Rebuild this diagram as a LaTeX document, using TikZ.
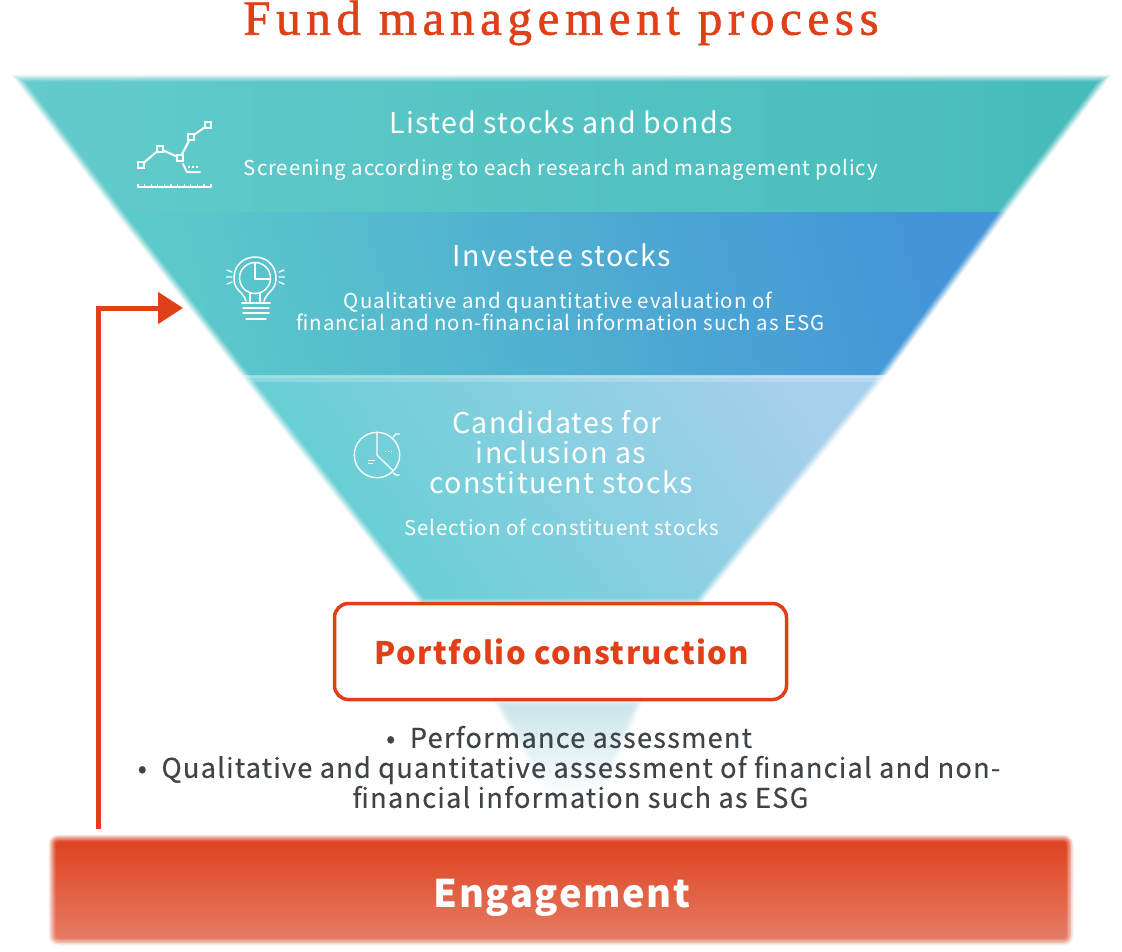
\documentclass[tikz,border=0pt]{standalone}
\usepackage{fontspec}
\setmainfont{Noto Sans CJK JP}[LetterSpace=4.5]
\newfontfamily\medfont{Noto Sans CJK JP}[LetterSpace=4.5,FakeBold=0.35]
\newfontfamily\titlefont{Liberation Serif}[LetterSpace=11.5,FakeBold=1.2]
\usetikzlibrary{arrows.meta}
\lineskiplimit=-20pt
\definecolor{accent}{HTML}{E03F18}
\definecolor{bodyink}{HTML}{3F4448}
\definecolor{tealA}{HTML}{64CBCC}
\definecolor{tealB}{HTML}{46BBBA}
\definecolor{tealC}{HTML}{5CC9CA}
\definecolor{blueC}{HTML}{4394D8}
\definecolor{tealD}{HTML}{62CFD2}
\definecolor{blueD}{HTML}{A6D0EC}
\definecolor{mist}{HTML}{C8E4EA}
\definecolor{engTop}{HTML}{DD3F1B}
\definecolor{engBot}{HTML}{E67F69}
\newcommand{\softedge}[1]{%
  \foreach \w/\o in {15/.15,12/.2,9/.3,6/.45,3/.7,1/.8}{\draw[white,line width=\w pt,opacity=\o,line join=round] #1;}}
\tikzset{
  x=1pt,y=-1pt,
  wt/.style={text=white,align=center,inner sep=0pt},
  lvl/.style={wt,font=\fontsize{28.6}{30}\selectfont},
  sub/.style={wt,font=\fontsize{20.4}{22}\selectfont},
  icon/.style={draw=white,line width=2pt,line cap=round,line join=round},
  thin icon/.style={draw=white,line width=1.2pt,line cap=butt},
  pt/.style={draw=white,line width=1.8pt,fill=tealA},
}
\begin{document}
\begin{tikzpicture}
\useasboundingbox (0,0) rectangle (1122,951);
% layer 3
\path[left color=tealD,right color=blueD,shading angle=125]
  (240,375) -- (888,375) -- (700,606) -- (420,606) -- cycle;
\draw[white,line width=9pt,opacity=.2] (240,377) -- (888,377);
\draw[white,line width=4pt,opacity=.2] (240,376) -- (888,376);
% layer 1
\path[left color=tealA,right color=tealB]
  (10,74) -- (1113,74) -- (1008,212) -- (114,212) -- cycle;
% layer 2
\path[left color=tealC,right color=blueC,shading angle=105]
  (114,212) -- (1008,212) -- (888,375) -- (240,375) -- cycle;
\softedge{(10,74) -- (1113,74) -- (1008,212) -- (888,375) -- (700,606) -- (420,606) -- (240,375) -- (114,212) -- cycle}
% small funnel under the box
\path[top color=mist,bottom color=white]
  (490,698) -- (645,698) -- (602,800) -- (548,800) -- cycle;
\softedge{(490,698) -- (645,698) -- (602,800) -- (548,800) -- cycle}
% engagement
\path[rounded corners=10pt,top color=engTop,bottom color=engBot]
  (48,834) rectangle (1074,946);
\softedge{[rounded corners=10pt] (48,834) rectangle (1074,946)}
% title
\node[inner sep=0pt,text=accent,font=\titlefont\fontsize{49}{49}\selectfont] (title) at (561,23) {Fund management process};
% labels
\node[lvl] (listed) at (561,122) {Listed stocks and bonds};
\node[sub] (screen) at (561,170) {Screening according to each research and management policy};
\node[lvl] (investee) at (562,255) {Investee stocks};
\node[sub] (qual) at (560.5,311) {Qualitative and quantitative evaluation of\hspace*{5pt}\\financial and non-financial information such as ESG};
\node[lvl] (cand) at (561,452) {Candidates for\hspace*{8pt}\\inclusion as\hspace*{8pt}\\constituent stocks};
\node[sub] (sel) at (562,527) {Selection of constituent stocks};
% box
\node[draw=accent,line width=3.5pt,rounded corners=14pt,fill=white,minimum width=452pt,minimum height=96pt,inner sep=0pt,
  text=accent,font=\fontsize{31}{31}\selectfont\bfseries] (port) at (560.5,651.5) {\raisebox{-2pt}{\hspace*{3pt}Portfolio construction}};
% assessment
\node[align=center,inner sep=0pt,text=bodyink,font=\medfont\fontsize{27.2}{30}\selectfont] (assess) at (569,767)
  {• \ Performance assessment\\• \ Qualitative and quantitative assessment of financial and non-\\\hspace*{23pt}financial information such as ESG};
\node[wt,font=\fontsize{38}{38}\selectfont\bfseries] (eng) at (562,898) {Engagement};
% feedback arrow
\coordinate (from) at (98,829);
\coordinate (to) at (183,308);
\draw[accent,line width=5pt,-{Triangle[length=25pt,width=31pt]}] (from) |- (to);
% chart icon
\draw[icon] (141,165) -- (160,149) -- (180,158) -- (191,137) -- (208,125);
\foreach \p in {(141,165),(160,149),(180,158),(191,137),(208,125)}{\draw[pt] \p +(-2.8,-2.8) rectangle +(2.8,2.8);}
\draw[icon] (183,164) -- (187,172) -- (200,172);
\draw[white,line width=1.8pt,dash pattern=on 2pt off 2.2pt] (188,167) -- (200,167);
\draw[icon,line cap=butt] (138,183.5) -- (138,187) -- (211,187) -- (211,183.5);
\foreach \i in {0,...,10}{\draw[white,line width=1.3pt] ({138+6.6*\i},187) -- ++(0,-3);}
% bulb icon
\draw[icon,line width=1.5pt] (246,301) .. controls (243,291) and (234,291) .. (234,278) .. controls (234,265) and (244,257) .. (255,257) .. controls (266,257) and (276,265) .. (276,278) .. controls (276,291) and (267,291) .. (264,301);
\draw[icon,line width=1.5pt] (255,278) circle (15.5);
\draw[icon,line width=1.5pt] (255,263) -- (255,279) -- (270,279);
\draw[icon,line width=1.5pt] (250,293) -- (250,302) (260,293) -- (260,302);
\foreach \y/\a/\b in {303/242/270,308/243/269,313/243/269,319/246/266}{\draw[icon,line width=1.5pt] (\a,\y) -- (\b,\y);}
\draw[icon,line width=1.4pt] (227,270) -- (232,272) (226.5,277) -- (232,277) (227,284) -- (232,282)
  (284,270) -- (279,272) (284.5,277) -- (279,277) (284,284) -- (279,282);
% pie icon
\draw[icon,line width=1.3pt] (377,455) circle (22.7);
\draw[icon,line width=1.3pt] (377,432.3) -- (377,455) -- (392.7,470.5);
\draw[white,line width=1pt,dash pattern=on 1.5pt off 1.5pt] (384.5,451) -- (392,451);
\draw[thin icon] (368,460.7) -- (375,460.7) (368,463.3) -- (372.5,463.3);
\draw[thin icon] (393,437) -- (396,434) -- (399.5,434) (393,472.7) -- (396,475) -- (399.5,475);
\end{tikzpicture}
\end{document}
